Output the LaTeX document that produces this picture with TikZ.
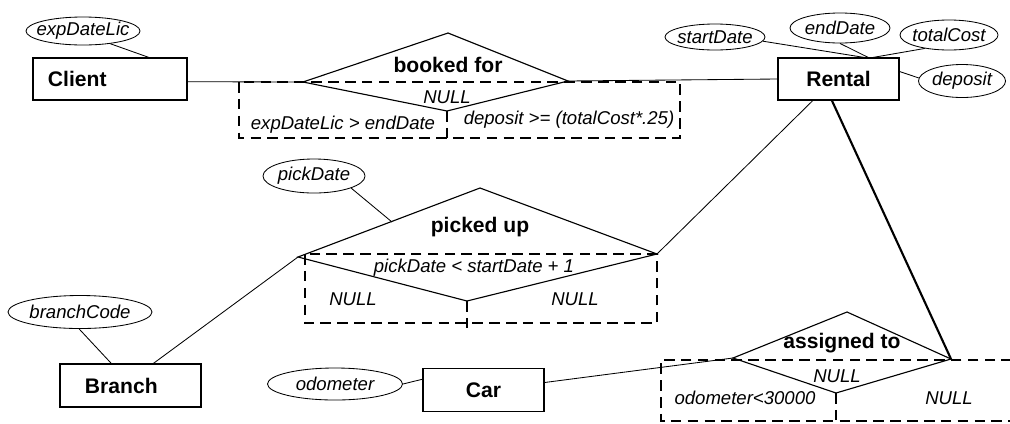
\documentclass[tikz,border=0pt]{standalone}
\usepackage{fontspec}
\setmainfont{Liberation Sans}
\usepackage{tikz}
\usetikzlibrary{shapes.geometric}

\begin{document}
\begin{tikzpicture}[x=0.025cm, y=-0.025cm,
  entity/.style={draw, line width=0.8pt, rectangle, minimum height=1.05cm, font=\fontsize{15}{18}\selectfont\bfseries},
  attr/.style={draw, line width=0.6pt, ellipse, inner xsep=-5pt, inner ysep=-2pt, font=\fontsize{13.2}{15}\selectfont\itshape},
  rel/.style={font=\fontsize{15}{18}\selectfont\bfseries},
  cond/.style={font=\fontsize{13.2}{15}\selectfont\itshape},
  rhomb/.style={line width=0.8pt},
  link/.style={line width=0.6pt},
  nullbox/.style={line width=1.4pt, dash pattern=on 7.5pt off 4.5pt}]
\useasboundingbox (0,0) rectangle (1010,423);

% entities
\node [entity, minimum width=3.85cm, text width=3.1cm, inner xsep=0.375cm, align=left] (client) at (110,79) {Client};
\node [entity, minimum width=3.025cm] (rental) at (838.5,79) {Rental};
\node [entity, minimum width=3.525cm, minimum height=1.075cm, text width=2.275cm, inner xsep=0.625cm, align=left] (branch) at (130.5,385.5) {Branch};
\node [entity, minimum width=3.025cm, minimum height=1.075cm] (car) at (483.5,390) {Car};

% attributes
\node [attr, minimum width=2.85cm, minimum height=0.7cm] (expdatelic) at (83,31) {expDateLic};
\node [attr, minimum width=2.5cm, minimum height=0.65cm] (startdate) at (715,37) {startDate};
\node [attr, minimum width=2.5cm, minimum height=0.75cm] (enddate) at (840,28) {endDate};
\node [attr, minimum width=2.45cm, minimum height=0.75cm] (totalcost) at (949,35) {totalCost};
\node [attr, minimum width=2.175cm, minimum height=0.825cm] (deposit) at (962,81) {deposit};
\node [attr, minimum width=2.55cm, minimum height=0.85cm] (pickdate) at (314,176) {pickDate};
\node [attr, minimum width=3.6cm, minimum height=0.825cm] (branchcode) at (80,312) {branchCode};
\node [attr, minimum width=3.375cm, minimum height=0.8cm] (odometer) at (335,384) {odometer};

% booked for
\coordinate (bw) at (303,82);
\coordinate (bn) at (448,33);
\coordinate (be) at (568,81);
\coordinate (bs) at (447,111);
\draw [rhomb] (bw) -- (bn) -- (be) -- (bs) -- cycle;
\node [rel] (booked) at (448,65) {booked for};
\node [cond] (bnull) at (447,97) {NULL};
\node [cond] (bleft) at (343,125) {expDateLic > endDate};
\node [cond] (bright) at (569,120) {deposit >= (totalCost*.25)};
\draw [nullbox] (239,82) rectangle (680,138);
\draw [nullbox] (bs) -- (447,138);

% picked up
\coordinate (pw) at (298,257);
\coordinate (pn) at (480,188);
\coordinate (pe) at (657,254);
\coordinate (ps) at (467,301);
\coordinate (pa) at (392,222);
\draw [rhomb] (pw) -- (pn) -- (pe) -- (ps) -- cycle;
\node [rel] (picked) at (480,227) {picked up};
\node [cond] (pcond) at (474,268) {pickDate < startDate + 1};
\node [cond] (pleft) at (353,299) {NULL};
\node [cond] (pright) at (575,299) {NULL};
\draw [nullbox] (305,254) rectangle (657,323);
\draw [nullbox] (ps) -- (467,332);

% assigned to
\coordinate (aw) at (733,358);
\coordinate (an) at (847,312);
\coordinate (ae) at (951,359);
\coordinate (as) at (836,393);
\draw [rhomb] (aw) -- (an) -- (ae) -- (as) -- cycle;
\node [rel] (assigned) at (842,343) {assigned to};
\node [cond] (anull) at (837,376) {NULL};
\node [cond] (aleft) at (745,398) {odometer<30000};
\node [cond] (aright) at (949,398) {NULL};
\draw [nullbox] (1012,360) -- (661,360) -- (661,421) -- (1012,421);
\draw [nullbox] (as) -- (836,421);

% attribute links
\draw [link] (expdatelic.-25) -- (client.29);
\draw [link] (startdate.-5) -- (rental.40);
\draw [link] (enddate.south) -- (rental.36);
\draw [link] (totalcost.209) -- (rental.32);
\draw [link] (rental.7) -- (deposit.176);
\draw [link] (pickdate.-18) -- (pa);
\draw [link] (branchcode.-93) -- (branch.131);
\draw [link] (odometer.east) -- (car.170);

% relationship links
\draw [link] (client.-2) -- (bw);
\draw [link] (be) -- (rental.west);
\draw [link] (rental.-140) -- (pe);
\draw [line width=1.5pt] (rental.-107) -- (ae);
\draw [link] (branch.44) -- (pw);
\draw [link] (car.7.5) -- (aw);
\end{tikzpicture}
\end{document}
